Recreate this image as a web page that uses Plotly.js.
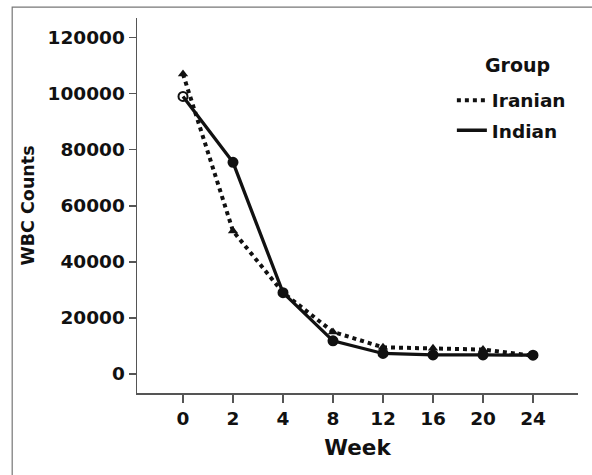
<!DOCTYPE html>
<html>
<head>
<meta charset="utf-8">
<script src="https://cdn.plot.ly/plotly-3.0.1.min.js"></script>
<style>html,body{margin:0;padding:0;background:#fff}#chart{width:592px;height:475px}</style>
</head>
<body>
<div id="chart"></div>
<script>
const weeks = ["0", "2", "4", "8", "12", "16", "20", "24"];
const iranian = [107000, 51000, 29000, 15000, 9500, 9200, 8700, 6500];
const indian = [99000, 75500, 29000, 11800, 7300, 6800, 6800, 6700];
const yTicks = [0, 20000, 40000, 60000, 80000, 100000, 120000];
const groupNames = ["Iranian", "Indian"];

const font = "'DejaVu Sans', 'Liberation Sans', sans-serif";
const ink = "#111";

const traces = [
  {
    x: weeks, y: iranian, name: groupNames[0], type: "scatter", mode: "lines+markers",
    line: {color: ink, width: 4, dash: "dot"},
    marker: {symbol: "triangle-up", size: 9, color: ink},
    showlegend: false
  },
  {
    x: weeks, y: indian, name: groupNames[1], type: "scatter", mode: "lines+markers",
    line: {color: ink, width: 3.3},
    marker: {symbol: ["circle-open"].concat(Array(weeks.length - 1).fill("circle")),
             size: 9, color: ink, line: {width: 2, color: ink}},
    showlegend: false
  },
  {
    x: [null], y: [null], name: groupNames[0], type: "scatter", mode: "lines",
    line: {color: ink, width: 4, dash: "dot"}, legendgroup: "a"
  },
  {
    x: [null], y: [null], name: groupNames[1], type: "scatter", mode: "lines",
    line: {color: ink, width: 3.5}, legendgroup: "b"
  }
];

const layout = {
  width: 592, height: 475,
  margin: {l: 137, r: 14, t: 18, b: 82},
  paper_bgcolor: "#fff", plot_bgcolor: "#fff",
  font: {family: font, color: ink, size: 18},
  showlegend: true,
  legend: {
    x: 0.714, y: 0.83, xanchor: "left", yanchor: "top",
    font: {size: 18.5, family: font, weight: "bold"},
    itemwidth: 30, traceorder: "grouped", tracegroupgap: 3,
    bgcolor: "rgba(0,0,0,0)"
  },
  annotations: [
    {text: "<b>Group</b>", xref: "paper", yref: "paper", x: 0.784, y: 1 - (65 - 18) / 375,
     xanchor: "left", yanchor: "middle", showarrow: false, font: {size: 19, family: font, color: ink}}
  ],
  xaxis: {
    type: "category", categoryorder: "array", categoryarray: weeks,
    range: [-0.92, 7.9],
    showline: true, linecolor: "#555", linewidth: 1.5,
    ticks: "outside", ticklen: 8, tickcolor: "#555", tickwidth: 1.5,
    showgrid: false, zeroline: false,
    tickfont: {size: 18.5, family: font, weight: "bold", color: ink},
    title: {text: "<b>Week</b>", font: {size: 21.5, family: font, color: ink}, standoff: 12}
  },
  yaxis: {
    range: [-6800, 127000],
    tickvals: yTicks, ticktext: yTicks.map(String),
    showline: true, linecolor: "#555", linewidth: 1.5,
    ticks: "outside", ticklen: 7, tickcolor: "#555", tickwidth: 1.5,
    showgrid: false, zeroline: false,
    tickfont: {size: 18.5, family: font, weight: "bold", color: ink},
    title: {text: "<b>WBC Counts</b>", font: {size: 17.5, family: font, color: ink}, standoff: 8}
  },
  shapes: [
    {type: "rect", xref: "paper", yref: "paper", x0: -0.283, x1: 1.1, y0: -0.3, y1: 1.029,
     line: {color: "#777", width: 1.2}, fillcolor: "rgba(0,0,0,0)", layer: "below"}
  ]
};

Plotly.newPlot("chart", traces, layout, {displayModeBar: false, staticPlot: true});
</script>
</body>
</html>
